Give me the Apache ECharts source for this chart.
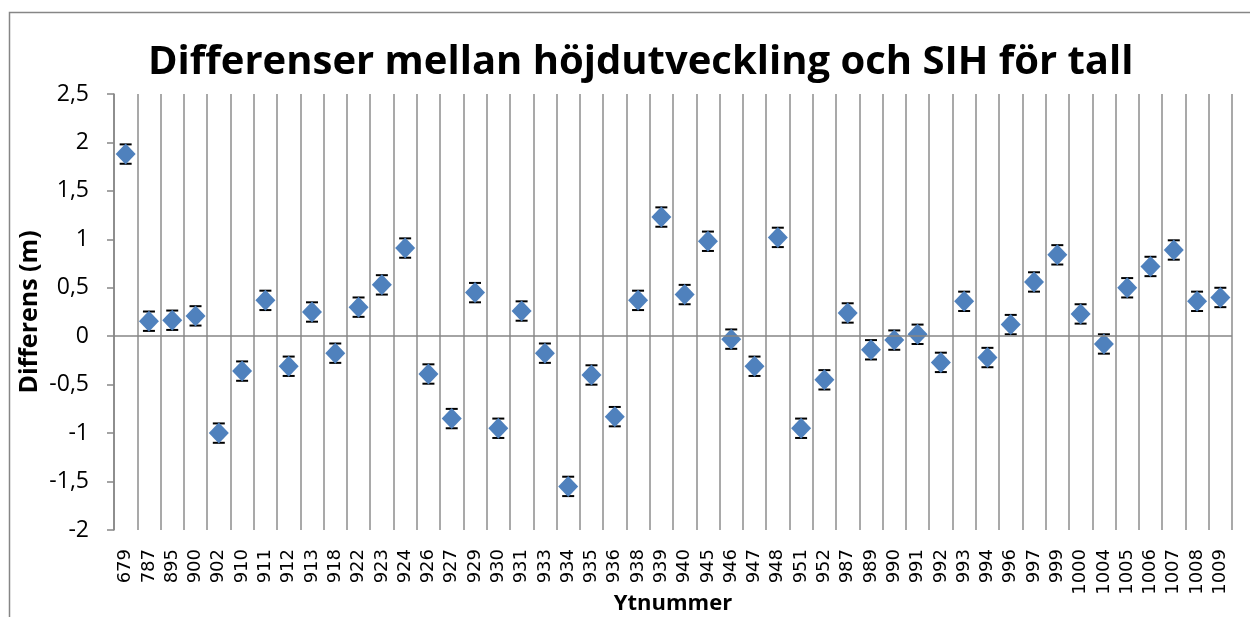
<!DOCTYPE html>
<html>
<head>
<meta charset="utf-8">
<script src="https://cdn.jsdelivr.net/npm/echarts@6/dist/echarts.min.js"></script>
<style>
html,body{margin:0;padding:0;background:#fff;}
#chart{width:1250px;height:617px;}
</style>
</head>
<body>
<div id="chart"></div>
<script>
const titleText = 'Differenser mellan höjdutveckling och SIH för tall';
const xAxisName = 'Ytnummer';
const yAxisName = 'Differens (m)';
const categories = ['679','787','895','900','902','910','911','912','913','918','922','923','924','926','927','929','930','931','933','934','935','936','938','939','940','945','946','947','948','951','952','987','989','990','991','992','993','994','996','997','999','1000','1004','1005','1006','1007','1008','1009'];
const differences = [1.88,0.155,0.165,0.21,-1.0,-0.36,0.37,-0.31,0.25,-0.175,0.30,0.53,0.91,-0.39,-0.85,0.45,-0.95,0.26,-0.175,-1.55,-0.40,-0.83,0.37,1.23,0.43,0.98,-0.03,-0.31,1.02,-0.95,-0.45,0.24,-0.14,-0.04,0.02,-0.27,0.36,-0.22,0.12,0.56,0.84,0.23,-0.08,0.50,0.72,0.89,0.36,0.40];
const errors = [0.1,0.1,0.1,0.1,0.1,0.1,0.1,0.1,0.1,0.1,0.1,0.1,0.1,0.1,0.1,0.1,0.1,0.1,0.1,0.1,0.1,0.1,0.1,0.1,0.1,0.1,0.1,0.1,0.1,0.1,0.1,0.1,0.1,0.1,0.1,0.1,0.1,0.1,0.1,0.1,0.1,0.1,0.1,0.1,0.1,0.1,0.1,0.1];
const yMin = -2, yMax = 2.5, yStep = 0.5;

const errData = differences.map((v, i) => [i, v - errors[i], v + errors[i]]);

const chart = echarts.init(document.getElementById('chart'), null, {renderer: 'canvas'});
chart.setOption({
  animation: false,
  backgroundColor: '#fff',
  graphic: [{
    type: 'rect', left: 7, top: 10, z: -1,
    shape: {width: 1300, height: 700},
    style: {fill: 'none', stroke: '#868686', lineWidth: 1.5}
  }],
  title: {
    text: titleText, left: 143, top: 38,
    textStyle: {fontFamily: 'Open Sans', fontWeight: 'bold', fontSize: 40, color: '#000'}
  },
  grid: {left: 114, right: 18, top: 94, bottom: 87, containLabel: false, outerBoundsMode: 'none'},
  xAxis: {
    type: 'category', data: categories, boundaryGap: true,
    name: xAxisName, nameLocation: 'middle', nameGap: 63, nameMoveOverlap: false,
    nameTextStyle: {fontFamily: 'Open Sans', fontWeight: 'bold', fontSize: 22, color: '#000'},
    axisLine: {show: false, onZero: false},
    axisTick: {show: false},
    axisLabel: {interval: 0, rotate: 90, fontFamily: 'DejaVu Sans', fontSize: 18, color: '#000', margin: 19},
    splitLine: {show: true, interval: 0, lineStyle: {color: '#8c8c8c', width: 1.5}}
  },
  yAxis: {
    type: 'value', min: yMin, max: yMax, interval: yStep,
    name: yAxisName, nameLocation: 'middle', nameGap: 72, nameRotate: 90, nameMoveOverlap: false,
    nameTextStyle: {fontFamily: 'Open Sans', fontWeight: 'bold', fontSize: 25, color: '#000'},
    axisLine: {show: true, lineStyle: {color: '#868686', width: 1.5}},
    axisTick: {show: true, inside: false, length: 7, lineStyle: {color: '#868686', width: 1.5}},
    axisLabel: {fontFamily: 'Open Sans', fontSize: 23, color: '#000', margin: 25,
      formatter: v => String(v).replace('.', ',')},
    splitLine: {show: false}
  },
  series: [
    {
      type: 'custom', z: 2,
      data: errData,
      encode: {x: 0, y: [1, 2]},
      renderItem: function (params, api) {
        const x = api.value(0);
        const lo = api.coord([x, api.value(1)]);
        const hi = api.coord([x, api.value(2)]);
        const hw = 6;
        const style = {stroke: '#000', lineWidth: 2};
        return {
          type: 'group',
          children: [
            {type: 'line', shape: {x1: lo[0], y1: lo[1], x2: hi[0], y2: hi[1]}, style: style},
            {type: 'line', shape: {x1: lo[0] - hw, y1: lo[1], x2: lo[0] + hw, y2: lo[1]}, style: style},
            {type: 'line', shape: {x1: hi[0] - hw, y1: hi[1], x2: hi[0] + hw, y2: hi[1]}, style: style}
          ]
        };
      }
    },
    {
      type: 'scatter', z: 3,
      data: differences,
      symbol: 'diamond', symbolSize: [20, 21],
      itemStyle: {color: '#4f81bd', opacity: 1},
      markLine: {
        silent: true, symbol: 'none', label: {show: false},
        lineStyle: {color: '#868686', width: 1.5, type: 'solid'},
        data: [{yAxis: 0}]
      }
    }
  ]
});
</script>
</body>
</html>
